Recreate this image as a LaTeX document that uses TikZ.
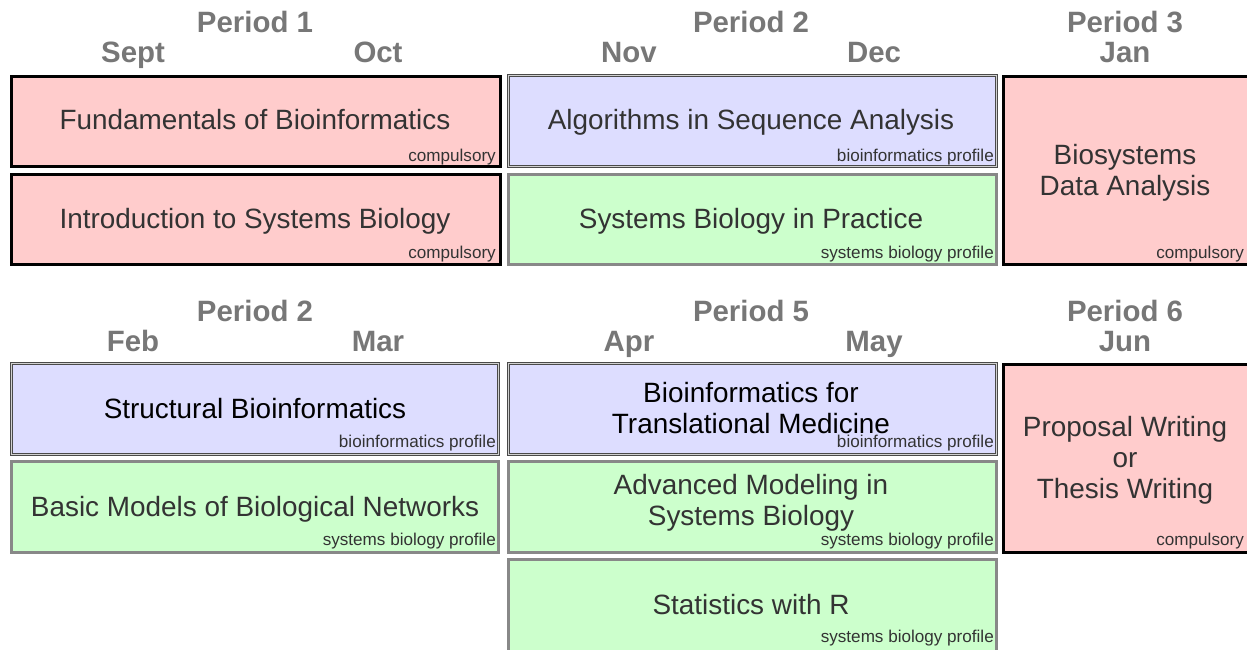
\documentclass[tikz,border=0pt]{standalone}
\usepackage{fontspec}
\setmainfont{Liberation Sans}
\definecolor{hdr}{HTML}{777777}
\definecolor{txt}{HTML}{333333}
\definecolor{redfill}{HTML}{FFCCCC}
\definecolor{bluefill}{HTML}{DDDDFF}
\definecolor{greenfill}{HTML}{CCFFCC}
\definecolor{greenline}{HTML}{888888}
\definecolor{blueline}{HTML}{4A4A4A}
\tikzset{
  box/.style={inner sep=0pt, outer sep=0pt},
  redbox/.style={box, draw=black, line width=3pt, fill=redfill},
  greenbox/.style={box, draw=greenline, line width=3pt, fill=greenfill},
  bluebox/.style={box, draw=blueline, line width=1pt, double=white!82!black, double distance=1pt, fill=bluefill},
  title/.style={inner sep=0pt, text=txt, font=\fontsize{27.9pt}{31pt}\selectfont, align=center},
  tag/.style={inner sep=0pt, text=txt, font=\fontsize{17.1pt}{19pt}\selectfont, anchor=base east},
  hdrtext/.style={inner sep=0pt, text=hdr, font=\fontsize{29.4pt}{32pt}\selectfont\bfseries, anchor=base},
}
\begin{document}
\begin{tikzpicture}[x=1pt, y=-1pt]
\useasboundingbox[fill=white] (0,0) rectangle (1247,650);
\clip (0,0) rectangle (1247,650);
% headers row 1
\node[hdrtext] (p1) at (255,33) {Period 1};
\node[hdrtext] (sep) at (133,63) {Sept};
\node[hdrtext] (oct) at (378,63) {Oct};
\node[hdrtext] (p2) at (751,33) {Period 2};
\node[hdrtext] (nov) at (629,63) {Nov};
\node[hdrtext] (dec) at (874,63) {Dec};
\node[hdrtext] (p3) at (1125,33) {Period 3};
\node[hdrtext] (jan) at (1125,63) {Jan};
% headers row 2
\node[hdrtext] (p2b) at (255,321) {Period 2};
\node[hdrtext] (feb) at (133,351) {Feb};
\node[hdrtext] (mar) at (378,351) {Mar};
\node[hdrtext] (p5) at (751,321) {Period 5};
\node[hdrtext] (apr) at (629,351) {Apr};
\node[hdrtext] (may) at (874,351) {May};
\node[hdrtext] (p6) at (1125,321) {Period 6};
\node[hdrtext] (jun) at (1125,351) {Jun};
% row 1 boxes
\node[redbox, minimum width=489pt, minimum height=90pt] (fb) at (256,121.5) {};
\node[redbox, minimum width=489pt, minimum height=90pt] (isb) at (256,219.5) {};
\node[bluebox, minimum width=488pt, minimum height=91pt] (asa) at (752.5,121) {};
\node[greenbox, minimum width=488pt, minimum height=90pt] (sbp) at (752.5,219.5) {};
\node[redbox, minimum width=247pt, minimum height=188pt] (bda) at (1127,170.5) {};
% row 2 boxes
\node[bluebox, minimum width=487pt, minimum height=91pt] (sb) at (255,409) {};
\node[greenbox, minimum width=487pt, minimum height=91pt] (bm) at (255,507) {};
\node[bluebox, minimum width=488pt, minimum height=91pt] (btm) at (752.5,409) {};
\node[greenbox, minimum width=488pt, minimum height=91pt] (am) at (752.5,507) {};
\node[greenbox, minimum width=488pt, minimum height=94pt] (sr) at (752.5,606.5) {};
\node[redbox, minimum width=247pt, minimum height=188pt] (pw) at (1127,458.5) {};
% titles
\node[title, anchor=base] (tfb) at (255,130) {Fundamentals of Bioinformatics};
\node[title, anchor=base] (tisb) at (255,228) {Introduction to Systems Biology};
\node[title, anchor=base] (tasa) at (751,130) {Algorithms in Sequence Analysis};
\node[title, anchor=base] (tsbp) at (751,228) {Systems Biology in Practice};
\node[title] (tbda) at (1125,172.4) {Biosystems\\Data Analysis};
\node[title, anchor=base, text=black] (tsb) at (255,418) {Structural Bioinformatics};
\node[title, anchor=base] (tbm) at (255,516) {Basic Models of Biological Networks};
\node[title, text=black] (tbtm) at (751,408) {Bioinformatics for\\Translational Medicine};
\node[title] (tam) at (751,503) {Advanced Modeling in\\Systems Biology};
\node[title, anchor=base] (tsr) at (751,614) {Statistics with R};
\node[title] (tpw) at (1125,460) {Proposal Writing\\or\\Thesis Writing};
% tags
\node[tag] (gfb) at (496,161) {compulsory};
\node[tag] (gisb) at (496,258) {compulsory};
\node[tag] (gasa) at (994,161) {bioinformatics profile};
\node[tag] (gsbp) at (994,258) {systems biology profile};
\node[tag] (gbda) at (1244,258) {compulsory};
\node[tag] (gsb) at (496,447) {bioinformatics profile};
\node[tag] (gbm) at (496,545) {systems biology profile};
\node[tag] (gbtm) at (994,447) {bioinformatics profile};
\node[tag] (gam) at (994,545) {systems biology profile};
\node[tag] (gsr) at (994,642) {systems biology profile};
\node[tag] (gpw) at (1244,545) {compulsory};
\end{tikzpicture}
\end{document}
